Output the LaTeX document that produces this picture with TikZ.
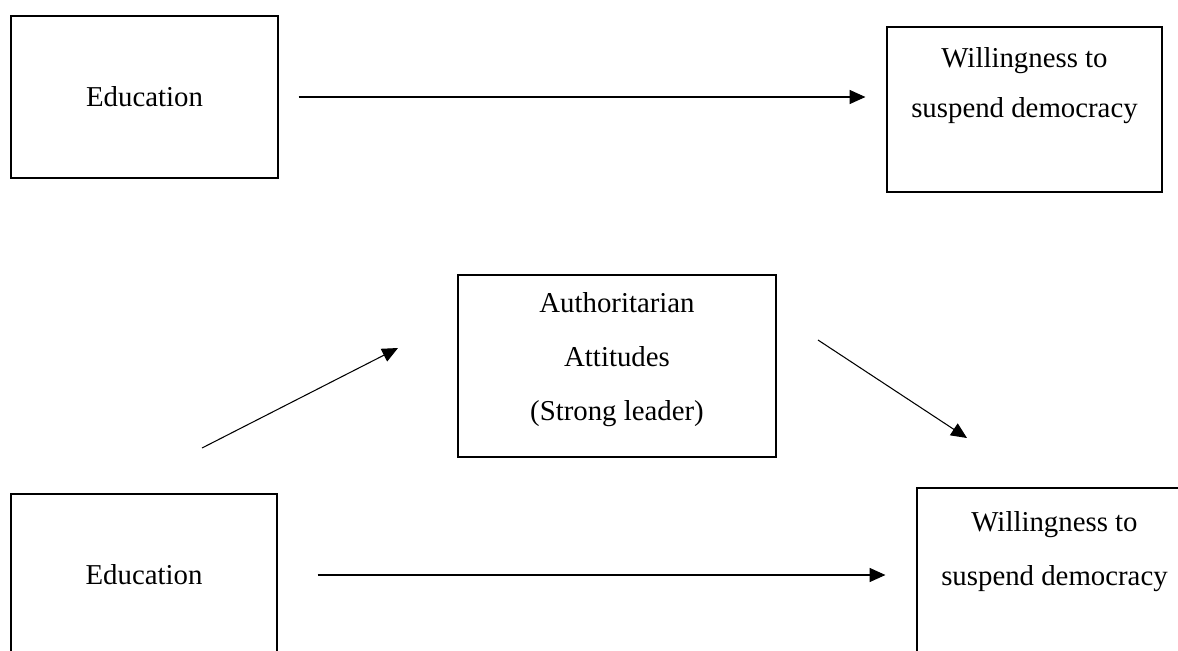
\documentclass[tikz,border=0pt]{standalone}
\usepackage{fontspec}
\setmainfont{Liberation Serif}
\usetikzlibrary{arrows.meta, positioning, calc}

\tikzset{
  varbox/.style 2 args={draw, line width=0.7pt, minimum width=#1, minimum height=#2, inner sep=0pt},
  vartext/.style={align=center, inner sep=0pt, anchor=base},
  conn/.style={line width=0.6pt, -{Triangle[length=9pt,width=8pt]}}
}

\begin{document}
\begin{tikzpicture}[x=0.02cm, y=-0.02cm]
  % page frame
  \useasboundingbox (0,0) rectangle (1178,650);
  \clip (0,0) rectangle (1178,650);

  % Direct effect
  \node[varbox={5.34cm}{3.24cm}, font=\fontsize{16.4}{20}\selectfont] (edu1) at (144.5,97) {Education};
  \node[varbox={5.5cm}{3.3cm}] (will1) at (1024.5,109.5) {};
  \node[vartext, font=\fontsize{16.4}{28.3}\selectfont] (will1t) at ($(will1.north)+(0,91)$) {Willingness to\\suspend democracy};

  \draw[conn, shorten <=20*0.02cm, shorten >=21*0.02cm] (edu1.east) -- (edu1.east -| will1.west);

  % Mediated effect
  \node[varbox={6.36cm}{3.64cm}] (auth) at (617,366) {};
  \node[vartext, font=\fontsize{16.4}{30.6}\selectfont] (autht) at ($(auth.north)+(0,146)$) {Authoritarian\\Attitudes\\(Strong leader)};

  \node[varbox={5.32cm}{3.24cm}, font=\fontsize{16.4}{20}\selectfont] (edu2) at (144,575) {Education};
  \node[varbox={5.5cm}{3.4cm}] (will2) at (1054.5,573) {};
  \node[vartext, font=\fontsize{16.4}{30.6}\selectfont] (will2t) at ($(will2.north)+(0,98)$) {Willingness to\\suspend democracy};

  \coordinate (a1) at (202,448);
  \coordinate (a2) at (398,348);
  \coordinate (b1) at (818,340);
  \coordinate (b2) at (967,438);
  \draw[conn] (a1) -- (a2);
  \draw[conn] (b1) -- (b2);
  \draw[conn, shorten <=40*0.02cm, shorten >=31*0.02cm] (edu2.east) -- (edu2.east -| will2.west);
\end{tikzpicture}
\end{document}
